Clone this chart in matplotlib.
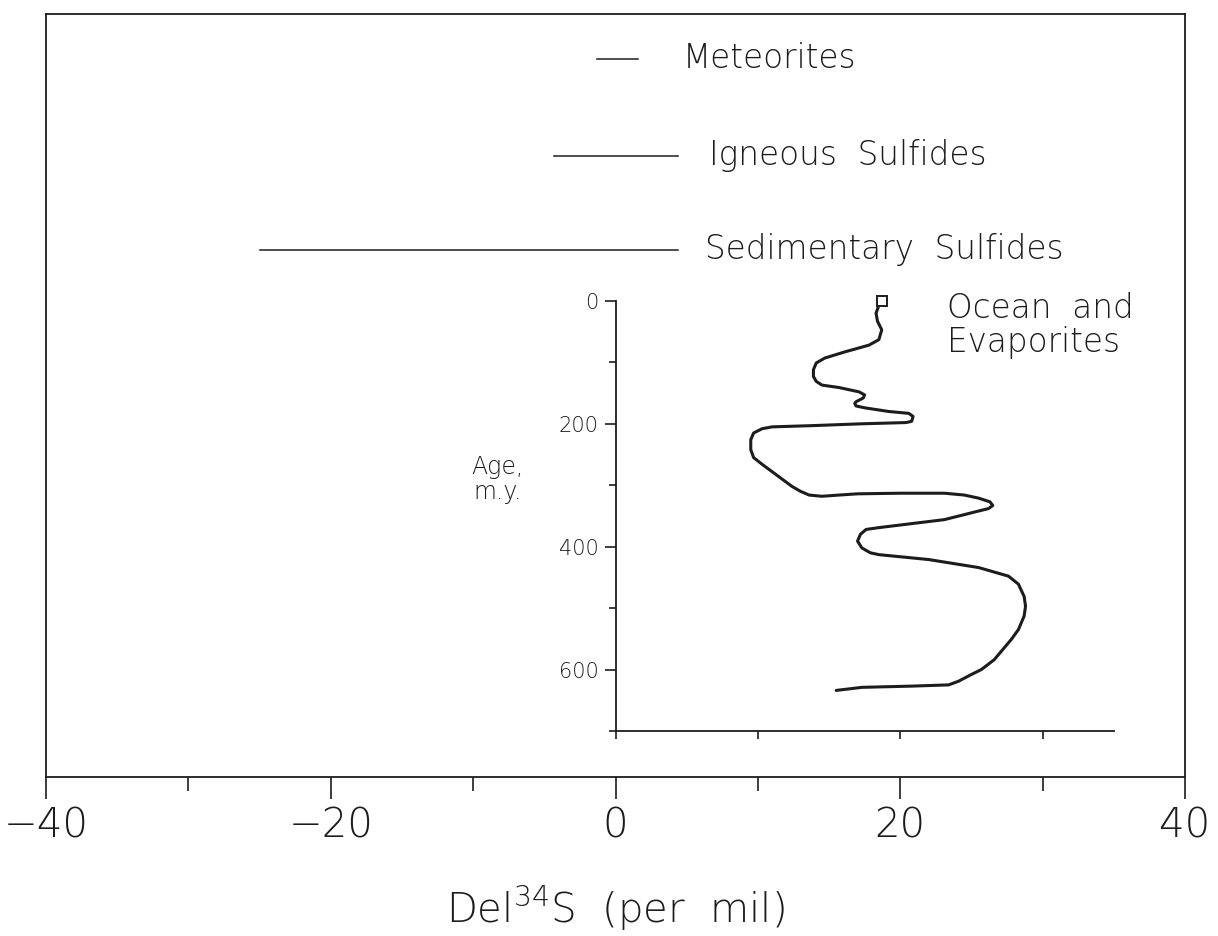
import numpy as np
import matplotlib
matplotlib.use("Agg")
import matplotlib.pyplot as plt
from matplotlib.ticker import MultipleLocator, FixedLocator

plt.rcParams['font.family'] = ['DejaVu Sans']
plt.rcParams['font.weight'] = 'light'
plt.rcParams['mathtext.fontset'] = 'custom'
plt.rcParams['mathtext.rm'] = 'DejaVu Sans:light'

INK = '#1c1c1c'

# range bars: name, low, high (per mil)
range_names = ['Meteorites', 'Igneous  Sulfides', 'Sedimentary  Sulfides']
range_low = [-1.3, -4.3, -25.0]
range_high = [1.6, 4.4, 4.4]

# seawater / evaporite curve: del34S vs age (m.y.)
ocean_del34s = [18.7, 18.5, 18.3, 18.4, 18.7, 18.5, 17.8, 16.1, 14.7, 14.1,
                13.9, 13.9, 14.1, 14.5, 15.7, 17.1, 17.5, 17.4, 16.9, 16.8,
                16.9, 17.5, 19.2, 20.6, 20.9, 20.8, 20.4, 17.3, 13.8, 11.0,
                10.3, 9.7, 9.5, 9.5, 9.7, 10.3, 11.0, 12.4, 13.0, 13.6,
                14.5, 15.7, 17.0, 20.0, 23.1, 24.5, 25.5, 26.3, 26.5, 26.2,
                25.5, 23.1, 18.5, 17.6, 17.2, 17.0, 17.3, 17.9, 18.5, 22.0,
                25.5, 27.6, 28.3, 28.7, 28.8, 28.7, 28.3, 27.8, 26.6, 25.7,
                25.0, 24.1, 23.4, 20.8, 17.3, 15.5]
ocean_age = [0, 7, 20, 33, 47, 63, 72, 83, 93, 101,
             112, 123, 131, 137, 141, 148, 153, 158, 164, 167,
             171, 174, 180, 183, 188, 196, 198, 200, 203, 205,
             208, 215, 226, 242, 255, 266, 278, 302, 310, 316,
             318, 316, 314, 313, 313, 316, 321, 327, 333, 338,
             342, 356, 369, 372, 380, 391, 402, 410, 413, 421,
             434, 448, 461, 481, 497, 513, 535, 551, 584, 600,
             608, 619, 625, 627, 629, 634]

fig = plt.figure(figsize=(12.18, 9.36), dpi=100)
ax = fig.add_axes([0.0378, 0.1699, 0.9351, 0.8152])
ax.set_xlim(-40, 40)
ax.set_ylim(0, 1)
for s in ax.spines.values():
    s.set_linewidth(1.3)
    s.set_color(INK)
ax.xaxis.set_major_locator(MultipleLocator(20))
ax.xaxis.set_minor_locator(MultipleLocator(10))
ax.set_yticks([])
ax.tick_params(axis='x', which='major', length=16, width=1.2, color=INK,
               pad=5, labelsize=29, labelcolor=INK)
ax.tick_params(axis='x', which='minor', length=10, width=1.2, color=INK)
ax.text(0.5, -0.192, 'Del$^{34}$S  (per  mil)', transform=ax.transAxes,
        ha='center', va='baseline', fontsize=29, color=INK)

# range bars with their names
row_y = [0.941, 0.814, 0.691]
name_x = [4.7, 6.6, 6.3]
for name, lo, hi, y, tx in zip(range_names, range_low, range_high, row_y, name_x):
    ax.plot([lo, hi], [y, y], color=INK, lw=1.1)
    ax.text(tx, y, name, ha='left', va='center', fontsize=23.5, color=INK)

# inset: ocean and evaporites through time
ins = ax.inset_axes([0, 0.0603, 35, 0.5636], transform=ax.transData)
ins.patch.set_alpha(0)
ins.set_xlim(0, 35)
ins.set_ylim(700, 0)
ins.spines['top'].set_visible(False)
ins.spines['right'].set_visible(False)
for side in ('left', 'bottom'):
    ins.spines[side].set_linewidth(1.3)
    ins.spines[side].set_color(INK)
ins.xaxis.set_major_locator(FixedLocator([0, 10, 20, 30]))
ins.xaxis.set_ticklabels([])
ins.yaxis.set_major_locator(FixedLocator([0, 200, 400, 600]))
ins.yaxis.set_minor_locator(FixedLocator([100, 300, 500, 700]))
ins.tick_params(axis='x', length=6, width=1.2, color=INK)
ins.tick_params(axis='y', which='major', length=8, width=1.2, color=INK,
                pad=4, labelsize=15, labelcolor=INK)
ins.tick_params(axis='y', which='minor', length=5, width=1.2, color=INK)

ins.plot(ocean_del34s, ocean_age, color=INK, lw=2.2, solid_capstyle='round',
         solid_joinstyle='round', clip_on=False)
ins.plot(ocean_del34s[0], ocean_age[0], marker='s', ms=7, mfc='white',
         mec=INK, mew=1.4, clip_on=False, zorder=3)
ax.text(23.3, 0.592, 'Ocean  and\nEvaporites', ha='left', va='center',
        fontsize=23.5, color=INK, linespacing=1.05)
ax.text(-8.3, 0.39, 'Age,\nm.y.', ha='center', va='center', fontsize=17,
        color=INK, linespacing=1.05)

fig.savefig('out.png', dpi=100)
